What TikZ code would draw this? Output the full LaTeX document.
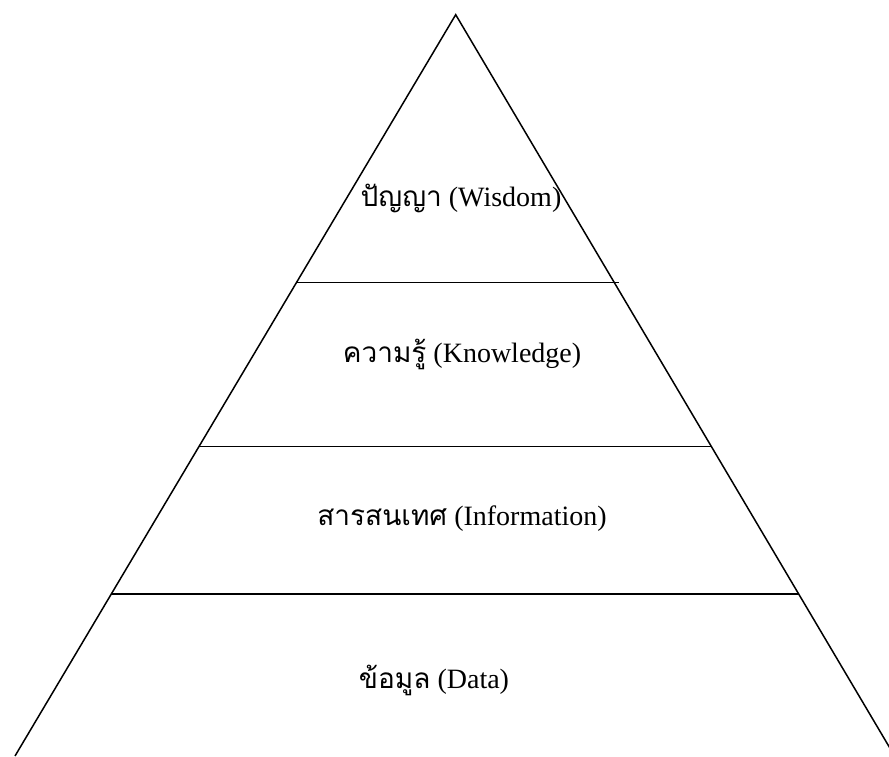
\documentclass[tikz,border=0pt]{standalone}
\usepackage{fontspec}
\setmainfont{Liberation Serif}
\newfontfamily\thaifont[Script=Thai]{Loma}
\tikzset{
  edge/.style={line width=1.5pt, black},
  lbl/.style={inner sep=0pt, anchor=base, font=\fontsize{28}{30}\selectfont}
}
\begin{document}
\begin{tikzpicture}[x=1pt,y=1pt]
\useasboundingbox (0,0) rectangle (889,756);
\clip (0,0) rectangle (889,756);
\coordinate (apex) at (455.7,741.3);
\coordinate (bl) at (15,0);
\coordinate (br) at (894.6,0);
\draw[edge, line join=miter] (bl) -- (apex) -- (br);
\coordinate (l1a) at (296.5,473.3);
\coordinate (l1b) at (619,473.3);
\coordinate (l2a) at (198.7,309.3);
\coordinate (l2b) at (711.5,309.3);
\coordinate (l3a) at (111.3,162);
\coordinate (l3b) at (798.5,162);
\draw[edge] (l1a) -- (l1b);
\draw[edge] (l2a) -- (l2b);
\draw[edge] (l3a) -- (l3b);
\node[lbl] (wisdom) at (461,549) {{\thaifont ปัญญา} (Wisdom)};
\node[lbl] (knowledge) at (462,393) {{\thaifont ความรู้} (Knowledge)};
\node[lbl] (information) at (462,231) {{\thaifont สารสนเทศ} (Information)};
\node[lbl] (data) at (434,68) {{\thaifont ข้อมูล} (Data)};
\end{tikzpicture}
\end{document}
